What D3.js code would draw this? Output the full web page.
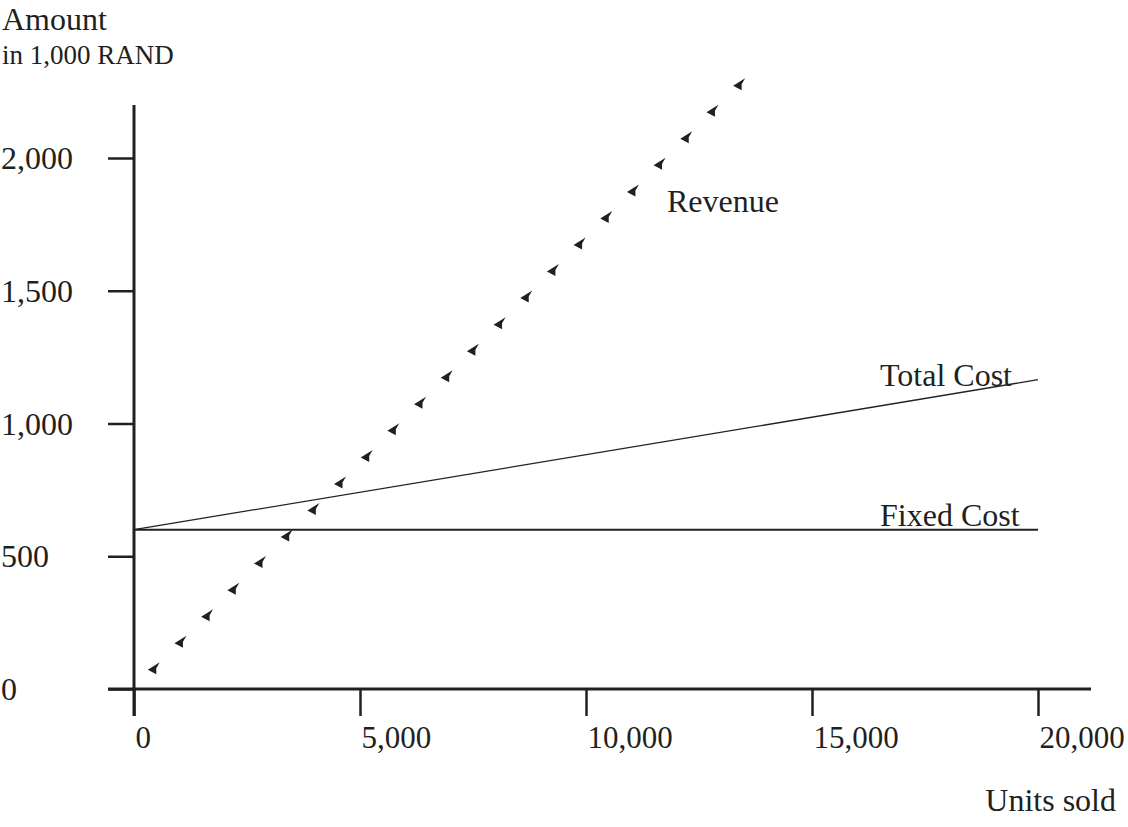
<!DOCTYPE html>
<html>
<head>
<meta charset="utf-8">
<script src="https://cdn.jsdelivr.net/npm/d3@7"></script>
<style>
  html, body { margin: 0; padding: 0; background: #fff; }
  svg text { font-family: "Liberation Serif", "Times New Roman", serif; fill: #231f20; }
</style>
</head>
<body>
<svg id="chart" width="1128" height="827"></svg>
<script>
// ---- data ----
const xTicks = [0, 5000, 10000, 15000, 20000];
const xTickLabels = ["0", "5,000", "10,000", "15,000", "20,000"];
const yTicks = [0, 500, 1000, 1500, 2000];
const yTickLabels = ["0", "500", "1,000", "1,500", "2,000"];

const fixedCostUnits = [0, 20000];
const fixedCostAmount = [600, 600];

const totalCostUnits = [0, 20000];
const totalCostAmount = [600, 1165];

const revenueUnits = [460, 1050, 1640, 2220, 2810, 3400, 3990, 4580, 5170, 5760, 6350, 6940,
                      7520, 8110, 8700, 9290, 9880, 10470, 11060, 11650, 12240, 12820, 13410];
const revenueAmount = [78, 178, 278, 378, 478, 578, 678, 778, 878, 978, 1078, 1178,
                       1278, 1378, 1478, 1578, 1678, 1778, 1878, 1978, 2078, 2178, 2278];

const seriesLabels = ["Revenue", "Total Cost", "Fixed Cost"];

// ---- drawing ----
const svg = d3.select("#chart");
const ink = "#231f20";

const x = d3.scaleLinear().domain([0, 20000]).range([134, 1038]);
const y = d3.scaleLinear().domain([0, 2000]).range([689, 158]);

// axis lines
svg.append("line").attr("x1", 108).attr("x2", 1091).attr("y1", y(0)).attr("y2", y(0))
  .attr("stroke", ink).attr("stroke-width", 3);
svg.append("line").attr("x1", x(0)).attr("x2", x(0)).attr("y1", 105).attr("y2", 716)
  .attr("stroke", ink).attr("stroke-width", 3);

// x ticks
const xAxis = d3.axisBottom(x).tickValues(xTicks).tickSize(27).tickFormat((d, i) => xTickLabels[i]);
const gx = svg.append("g").attr("transform", `translate(0,${y(0)})`).call(xAxis);
gx.select(".domain").remove();
gx.selectAll(".tick line").attr("stroke", ink).attr("stroke-width", 2.5);
gx.selectAll(".tick text").attr("text-anchor", "start").attr("x", 1).attr("y", 59).attr("dy", 0)
  .style("font-size", "31px").style("font-family", "'Liberation Serif', serif").attr("fill", ink);

// y ticks
const yAxis = d3.axisLeft(y).tickValues(yTicks).tickSize(26).tickFormat((d, i) => yTickLabels[i]);
const gy = svg.append("g").attr("transform", `translate(${x(0)},0)`).call(yAxis);
gy.select(".domain").remove();
gy.selectAll(".tick line").attr("stroke", ink).attr("stroke-width", 2.5);
gy.selectAll(".tick text").attr("text-anchor", "start").attr("x", -133).attr("dy", "0.33em")
  .style("font-size", "32px").style("font-family", "'Liberation Serif', serif").attr("fill", ink);

// fixed cost
const line = d3.line().x(d => x(d[0])).y(d => y(d[1]));
svg.append("path").datum(fixedCostUnits.map((u, i) => [u, fixedCostAmount[i]]))
  .attr("d", line).attr("fill", "none").attr("stroke", ink).attr("stroke-width", 2);

// total cost
svg.append("path").datum(totalCostUnits.map((u, i) => [u, totalCostAmount[i]]))
  .attr("d", line).attr("fill", "none").attr("stroke", ink).attr("stroke-width", 1.3);

// revenue markers (arrowheads)
const arrow = "M-7,1.5 L5,-6 L1.5,0 L1.5,6 Z";
svg.append("g").selectAll("path").data(revenueUnits.map((u, i) => [u, revenueAmount[i]]))
  .join("path")
  .attr("transform", d => `translate(${x(d[0])},${y(d[1])})`)
  .attr("d", arrow).attr("fill", ink);

// series labels
svg.append("text").attr("x", 667).attr("y", 212).style("font-size", "32px").text(seriesLabels[0]);
svg.append("text").attr("x", 880).attr("y", 386).style("font-size", "32px").text(seriesLabels[1]);
svg.append("text").attr("x", 880).attr("y", 526).style("font-size", "32px").text(seriesLabels[2]);

// axis titles
svg.append("text").attr("x", 2).attr("y", 30).style("font-size", "32px").text("Amount");
svg.append("text").attr("x", 2).attr("y", 64).style("font-size", "27px").text("in 1,000 RAND");
svg.append("text").attr("x", 1116).attr("y", 811).attr("text-anchor", "end").style("font-size", "32px").text("Units sold");
</script>
</body>
</html>
